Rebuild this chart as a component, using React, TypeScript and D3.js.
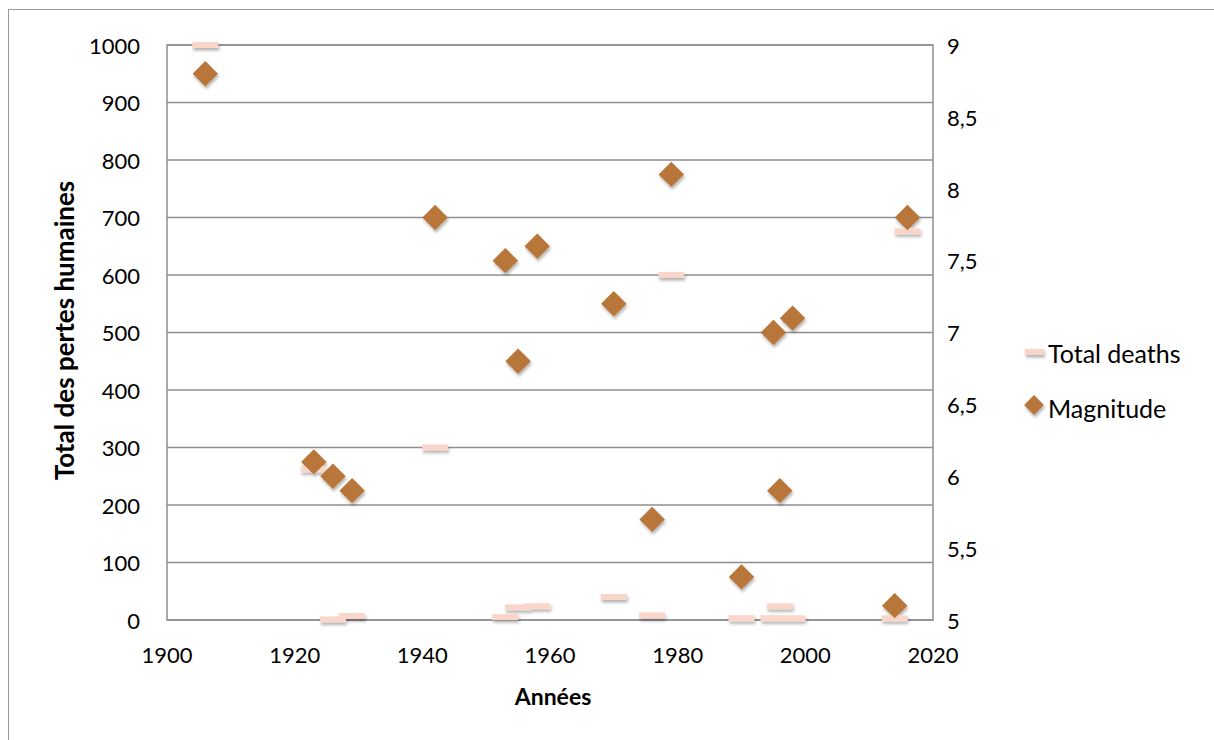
import React from "react";
import * as d3 from "d3";

const years = [1906, 1923, 1926, 1929, 1942, 1953, 1955, 1958, 1970, 1976, 1979, 1990, 1995, 1996, 1998, 2014, 2016];
const deaths = [1000, 262, 1, 7, 300, 5, 22, 24, 40, 8, 600, 3, 3, 24, 3, 3, 676];
const magnitudes = [8.8, 6.1, 6.0, 5.9, 7.8, 7.5, 6.8, 7.6, 7.2, 5.7, 8.1, 5.3, 7.0, 5.9, 7.1, 5.1, 7.8];

const xTicks = [1900, 1920, 1940, 1960, 1980, 2000, 2020];
const leftTicks = [0, 100, 200, 300, 400, 500, 600, 700, 800, 900, 1000];
const rightTicks = [5, 5.5, 6, 6.5, 7, 7.5, 8, 8.5, 9];

const FONT = "Lato, 'Open Sans', sans-serif";

export default function App() {
  const left = 167, right = 933, top = 45, bottom = 620;
  const x = d3.scaleLinear().domain([1900, 2020]).range([left, right]);
  const yL = d3.scaleLinear().domain([0, 1000]).range([bottom, top]);
  const yR = d3.scaleLinear().domain([5, 9]).range([bottom, top]);
  const fmtR = (v: number) => String(v).replace(".", ",");
  const diamond = d3.symbol().type(d3.symbolSquare).size(18 * 18)();
  const magColor = "#b9763a";
  const deathColor = "#f9d6c9";
  const grid = "#8e8e8e";
  const fs = 22;

  return (
    <svg width={1214} height={740} style={{ position: "absolute", left: 0, top: 0, background: "#fff" }}>
      <defs>
        <filter id="sh" x="-50%" y="-50%" width="200%" height="200%">
          <feDropShadow dx="1" dy="2.5" stdDeviation="1.5" floodColor="#000" floodOpacity="0.3" />
        </filter>
      </defs>
      <rect x={8.5} y={9.5} width={1300} height={800} fill="none" stroke="#9a9a9a" strokeWidth={1} />
      {leftTicks.map((t) => (
        <line key={t} x1={left} x2={right} y1={yL(t)} y2={yL(t)} stroke={grid} strokeWidth={1.5} />
      ))}
      <rect x={left} y={top} width={right - left} height={bottom - top} fill="none" stroke={grid} strokeWidth={1.5} />
      {leftTicks.map((t) => (
        <text key={t} x={left - 27} y={yL(t)} dy="0.4em" textAnchor="end" fontFamily={FONT} fontSize={fs} fill="#000">
          {t}
        </text>
      ))}
      {rightTicks.map((t) => (
        <text key={t} x={right + 14} y={yR(t)} dy="0.4em" textAnchor="start" fontFamily={FONT} fontSize={fs} fill="#000">
          {fmtR(t)}
        </text>
      ))}
      {xTicks.map((t) => (
        <text key={t} x={x(t)} y={bottom + 43} textAnchor="middle" fontFamily={FONT} fontSize={fs} fill="#000">
          {t}
        </text>
      ))}
      <text
        transform={`translate(74,${(top + bottom) / 2 - 2}) rotate(-90)`}
        textAnchor="middle"
        fontFamily={FONT}
        fontWeight="bold"
        fontSize={26}
        fill="#000"
      >
        Total des pertes humaines
      </text>
      <text x={553} y={705} textAnchor="middle" fontFamily={FONT} fontWeight="bold" fontSize={23} fill="#000">
        Années
      </text>
      <g filter="url(#sh)">
        {years.map((yr, i) => (
          <rect key={"d" + i} x={x(yr) - 13} y={yL(deaths[i]) - 3} width={26} height={6} fill={deathColor} />
        ))}
        {years.map((yr, i) => (
          <path
            key={"m" + i}
            d={diamond as string}
            transform={`translate(${x(yr)},${yR(magnitudes[i])}) rotate(45)`}
            fill={magColor}
          />
        ))}
      </g>
      <g filter="url(#sh)">
        <rect x={1025} y={349} width={19} height={6} fill={deathColor} />
        <path d={d3.symbol().type(d3.symbolSquare).size(14 * 14)() as string} transform="translate(1034,405) rotate(45)" fill={magColor} />
      </g>
      <text x={1048} y={354} dy="0.35em" fontFamily={FONT} fontSize={25} fill="#000">
        Total deaths
      </text>
      <text x={1048} y={409} dy="0.35em" fontFamily={FONT} fontSize={25} fill="#000">
        Magnitude
      </text>
    </svg>
  );
}
